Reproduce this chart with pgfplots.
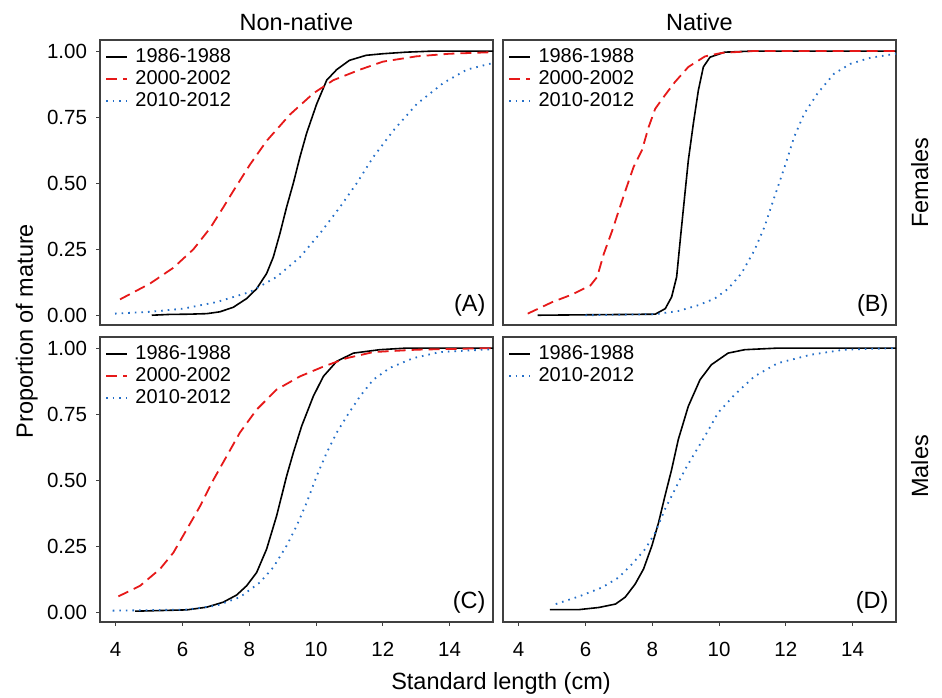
\documentclass[border=0pt]{standalone}
\usepackage{pgfplots}
\pgfplotsset{compat=1.18}
\usepgfplotslibrary{groupplots}
\usetikzlibrary{calc}
\usepackage{fontspec}
\setmainfont{Liberation Sans}
\definecolor{cred}{RGB}{230,25,25}
\definecolor{cblue}{RGB}{35,110,200}
\definecolor{frame}{RGB}{64,64,64}
\newcommand{\lab}{\fontsize{23.5}{28}\selectfont}
\pgfplotsset{
 pan/.style={scale only axis, width=393pt, height=285pt,
  xmin=3.53, xmax=15.3, ymin=-0.037, ymax=1.042,
  axis line style={frame, line width=1.2pt},
  tick style={frame, line width=1pt}, tick align=outside, major tick length=3.5pt,
  xtick={4,6,...,14}, ytick={0,0.25,0.5,0.75,1},
  xtick pos=left, ytick pos=left,
  yticklabel style={xshift=-6pt, /pgf/number format/.cd, fixed, fixed zerofill, precision=2},
  xticklabel style={yshift=-13pt},
  /pgf/number format/assume math mode=true,
  ticklabel style={font=\fontsize{20.5}{24}\selectfont},
  legend style={draw=none, fill=none, at={(0,1)}, anchor=north west, xshift=2pt, yshift=-4pt,
    font=\fontsize{20}{24}\selectfont, column sep=7pt,
    nodes={inner sep=0.5pt, text height=15.5pt, text depth=5.5pt}},
  legend cell align=left,
  legend image code/.code={\draw[##1] (0pt,0pt) -- (21pt,0pt);},
 },
 sB/.style={black, line width=1.6pt},
 sR/.style={cred, line width=1.8pt, dash pattern=on 11pt off 6pt},
 sU/.style={cblue, line width=1.8pt, dash pattern=on 1.6pt off 5pt},
}
\begin{document}
\begin{tikzpicture}
\begin{groupplot}[group style={group name=G, group size=2 by 2, horizontal sep=10pt, vertical sep=12pt}, pan]
% (A) Non-native females
\nextgroupplot[xmajorticks=false]
\addplot[sB] coordinates {(5.08,0) (5.6,0.003) (6.2,0.004) (6.73,0.006) (7.12,0.013) (7.52,0.03) (7.92,0.063) (8.22,0.1) (8.52,0.158) (8.72,0.22) (8.92,0.31) (9.12,0.41) (9.32,0.50) (9.52,0.60) (9.72,0.69) (10.02,0.80) (10.32,0.89) (10.62,0.93) (11.0,0.965) (11.5,0.984) (12.0,0.99) (12.7,0.996) (13.5,1.0) (15.3,1.0)};
\addlegendentry{1986-1988}
\addplot[sR] coordinates {(4.13,0.06) (5.03,0.12) (5.73,0.18) (6.33,0.25) (6.83,0.33) (7.23,0.41) (7.52,0.47) (8.02,0.57) (8.52,0.66) (9.22,0.76) (9.92,0.84) (10.52,0.89) (11.32,0.93) (12.0,0.96) (13.0,0.98) (14.0,0.99) (15.3,0.996)};
\addlegendentry{2000-2002}
\addplot[sU] coordinates {(3.98,0.006) (5.03,0.013) (6.03,0.025) (7.03,0.05) (8.02,0.088) (8.82,0.145) (9.52,0.22) (10.12,0.31) (10.72,0.41) (11.22,0.50) (11.72,0.60) (12.32,0.70) (13.02,0.80) (13.82,0.88) (14.52,0.93) (15.3,0.955)};
\addlegendentry{2010-2012}
% (B) Native females
\nextgroupplot[xmajorticks=false, ymajorticks=false]
\addplot[sB] coordinates {(4.57,0) (8.09,0.004) (8.39,0.025) (8.58,0.069) (8.73,0.145) (8.85,0.3) (8.97,0.45) (9.08,0.586) (9.23,0.725) (9.38,0.851) (9.53,0.94) (9.73,0.977) (10.17,0.996) (11,1.0) (15.3,1.0)};
\addlegendentry{1986-1988}
\addplot[sR] coordinates {(4.27,0.006) (5.01,0.05) (5.61,0.079) (6.15,0.113) (6.35,0.145) (6.55,0.233) (6.80,0.32) (7.0,0.397) (7.20,0.473) (7.44,0.561) (7.69,0.624) (7.89,0.712) (8.09,0.782) (8.34,0.826) (8.68,0.883) (9.08,0.94) (9.58,0.98) (10.07,0.993) (11,1.0) (15.3,1.0)};
\addlegendentry{2000-2002}
\addplot[sU] coordinates {(6.0,0) (8.09,0.004) (8.78,0.016) (9.38,0.038) (9.87,0.063) (10.27,0.10) (10.67,0.158) (11.06,0.246) (11.36,0.334) (11.66,0.448) (11.96,0.56) (12.25,0.675) (12.55,0.763) (12.95,0.84) (13.44,0.914) (13.94,0.952) (14.54,0.975) (15.3,0.99)};
\addlegendentry{2010-2012}
% (C) Non-native males
\nextgroupplot
\addplot[sB] coordinates {(4.58,0.004) (6.13,0.009) (6.72,0.019) (7.22,0.038) (7.62,0.065) (7.92,0.10) (8.22,0.15) (8.52,0.239) (8.82,0.365) (9.12,0.516) (9.32,0.604) (9.57,0.705) (9.92,0.818) (10.22,0.893) (10.62,0.95) (11.12,0.981) (11.91,0.994) (12.71,1.0) (15.3,1.0)};
\addlegendentry{1986-1988}
\addplot[sR] coordinates {(4.08,0.06) (4.73,0.10) (5.33,0.164) (5.73,0.226) (6.13,0.314) (6.52,0.40) (6.92,0.50) (7.32,0.59) (7.72,0.68) (8.22,0.767) (8.82,0.843) (9.52,0.893) (10.22,0.93) (10.92,0.962) (11.72,0.985) (13.01,0.994) (15.3,1.0)};
\addlegendentry{2000-2002}
\addplot[sU] coordinates {(3.91,0.006) (6.13,0.01) (7.02,0.025) (7.72,0.057) (8.32,0.113) (8.72,0.17) (9.12,0.252) (9.42,0.327) (9.72,0.415) (10.02,0.516) (10.32,0.604) (10.62,0.68) (10.92,0.742) (11.32,0.818) (11.71,0.88) (12.21,0.925) (12.91,0.962) (13.71,0.985) (15.3,0.996)};
\addlegendentry{2010-2012}
% (D) Native males
\nextgroupplot[ymajorticks=false]
\addplot[sB] coordinates {(4.93,0.01) (5.81,0.01) (6.40,0.018) (6.90,0.031) (7.19,0.057) (7.49,0.107) (7.74,0.164) (7.99,0.252) (8.19,0.34) (8.38,0.44) (8.58,0.54) (8.78,0.654) (9.08,0.78) (9.43,0.88) (9.77,0.937) (10.27,0.981) (10.77,0.994) (11.76,1.0) (15.3,1.0)};
\addlegendentry{1986-1988}
\addplot[sU] coordinates {(5.11,0.031) (5.81,0.06) (6.50,0.094) (7.0,0.132) (7.39,0.182) (7.79,0.239) (8.09,0.302) (8.38,0.39) (8.68,0.465) (8.98,0.54) (9.28,0.604) (9.58,0.667) (9.97,0.755) (10.47,0.824) (11.06,0.893) (11.76,0.943) (12.75,0.975) (13.74,0.994) (15.3,1.0)};
\addlegendentry{2010-2012}
\end{groupplot}
\node[anchor=south east, font=\lab] at ($(G c1r1.south east)+(-4pt,5pt)$) {(A)};
\node[anchor=south east, font=\lab] at ($(G c2r1.south east)+(-4pt,5pt)$) {(B)};
\node[anchor=south east, font=\lab] at ($(G c1r2.south east)+(-4pt,5pt)$) {(C)};
\node[anchor=south east, font=\lab] at ($(G c2r2.south east)+(-4pt,5pt)$) {(D)};
\node[anchor=base, font=\lab] at ($(G c1r1.north)+(0,10pt)$) {Non-native};
\node[anchor=base, font=\lab] at ($(G c2r1.north)+(0,10pt)$) {Native};
\node[anchor=base, rotate=90, font=\lab] at ($(G c2r1.east)+(32pt,0)$) {Females};
\node[anchor=base, rotate=90, font=\lab] at ($(G c2r2.east)+(32pt,13pt)$) {Males};
\node[anchor=base, rotate=90, font=\lab] at ($(G c1r1.south west)!0.5!(G c1r2.north west)+(-67pt,0)$) {Proportion of mature};
\node[anchor=base, font=\lab] at ($(G c1r2.south east)!0.5!(G c2r2.south west)+(3pt,-67pt)$) {Standard length (cm)};
\path ($(G c1r1.north west)+(-100pt,40pt)$) rectangle ++(942pt,-693pt);
\end{tikzpicture}
\end{document}
